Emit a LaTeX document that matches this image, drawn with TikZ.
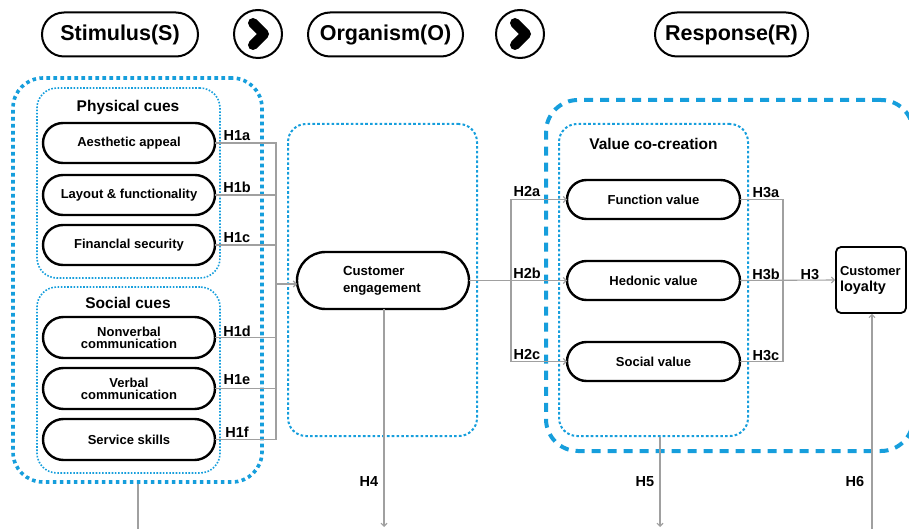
\documentclass[tikz,border=0pt]{standalone}
\usepackage{fontspec}
\setmainfont{Liberation Sans}
\usetikzlibrary{shapes.misc,arrows.meta}
\definecolor{sky}{RGB}{22,158,220}
\definecolor{lnc}{RGB}{160,160,160}
\tikzset{
  pill/.style={rounded rectangle, draw=black, line width=2.4pt, minimum width=172pt, minimum height=40pt, inner sep=0pt, outer sep=0pt, align=center, font=\bfseries\fontsize{13}{12}\selectfont},
  headpill/.style={rounded rectangle, draw=black, line width=2pt, minimum height=44pt, inner sep=0pt, font=\bfseries\fontsize{21.5}{24}\selectfont},
  chev/.style={circle, draw=black, line width=2pt, minimum size=48pt, inner sep=0pt},
  chevmark/.style={line width=10pt, line cap=round, line join=round},
  bigdot/.style={draw=sky, line width=3.6pt, dash pattern=on 3.6pt off 3.4pt, rounded corners=30pt, inner sep=0pt},
  thindot/.style={draw=sky, line width=1.6pt, dash pattern=on 1.6pt off 1.6pt, rounded corners=20pt, inner sep=0pt},
  middot/.style={draw=sky, line width=2pt, dash pattern=on 2.6pt off 2.2pt, rounded corners=18pt, inner sep=0pt},
  bigdash/.style={draw=sky, line width=4pt, dash pattern=on 9pt off 7pt, rounded corners=32pt, inner sep=0pt},
  grp/.style={font=\bfseries\fontsize{15.5}{18}\selectfont},
  hlab/.style={font=\bfseries\fontsize{14.5}{16}\selectfont, anchor=base, inner sep=0pt},
  ln/.style={draw=lnc, line width=1.1pt},
  ar/.style={ln, -{Straight Barb[length=3pt,width=6pt]}},
}
\begin{document}
\begin{tikzpicture}[x=1pt,y=-1pt]
\useasboundingbox (0,0) rectangle (909,529);
% header
\node[headpill, minimum width=156pt] (stim) at (120,34.5) {Stimulus(S)};
\node[chev] (c1) at (258,34) {};
\draw[chevmark] ([shift={(-5,-11)}]c1.center) -- ([shift={(6,0)}]c1.center) -- ([shift={(-5,11)}]c1.center);
\node[headpill, minimum width=155pt] (org) at (385.5,34.5) {Organism(O)};
\node[chev] (c2) at (520,34) {};
\draw[chevmark] ([shift={(-5,-11)}]c2.center) -- ([shift={(6,0)}]c2.center) -- ([shift={(-5,11)}]c2.center);
\node[headpill, minimum width=153pt] (resp) at (731.5,34.5) {Response(R)};
% boxes
\node[bigdot, minimum width=249pt, minimum height=404pt] (sbox) at (137.5,280) {};
\node[thindot, minimum width=183pt, minimum height=190pt] (phys) at (128.5,183) {};
\node[thindot, minimum width=183pt, minimum height=186pt] (soc) at (128.5,380) {};
\node[middot, minimum width=189pt, minimum height=312pt] (obox) at (382.5,280) {};
\node[bigdash, minimum width=367pt, minimum height=351pt] (rbox) at (729.5,275.5) {};
\node[middot, minimum width=189pt, minimum height=312pt] (vbox) at (653.5,280) {};
% group labels
\node[grp] (lphys) at (128,107) {Physical cues};
\node[grp] (lsoc) at (128,303) {Social cues};
\node[grp] (lval) at (653.5,144) {Value co-creation};
% stimulus pills
\node[pill] (aes) at (129,143) {Aesthetic appeal};
\node[pill] (lay) at (129,195) {Layout \& functionality};
\node[pill] (fin) at (129,245) {Financlal security};
\node[pill, minimum height=41pt] (nonv) at (129,337.5) {Nonverbal\\communication};
\node[pill, minimum height=41pt] (verb) at (129,388.5) {Verbal\\communication};
\node[pill, minimum height=41pt] (serv) at (129,439.5) {Service skills};
% organism
\node[pill, minimum height=57pt, minimum width=172pt] (ce) at (383,280.5) {\parbox{80pt}{\raggedright\fontsize{13.2}{17}\selectfont Customer\\engagement}};
% values
\node[pill, minimum width=173pt, minimum height=39pt] (fv) at (653.5,199.5) {Function value};
\node[pill, minimum width=173pt, minimum height=39pt] (hv) at (653.5,280.5) {Hedonic value};
\node[pill, minimum width=173pt, minimum height=39pt] (sv) at (653.5,361.5) {Social value};
% loyalty
\node[draw=black, line width=1.8pt, rounded corners=5pt, minimum width=70pt, minimum height=66pt, inner sep=0pt] (cl) at (871,280) {\parbox{62pt}{\raggedright\bfseries\fontsize{13}{16}\selectfont Customer\\{\fontsize{14.5}{16}\selectfont loyalty}}};
% junctions
\coordinate (j1) at (276,284);
\coordinate (j2) at (511,280.5);
\coordinate (j3) at (783,280.5);
\draw[ln] (aes.east) -| (j1);
\draw[ln] (lay.east) -| (j1);
\draw[ln] (fin.east) -| (j1);
\draw[ln] (nonv.east) -| (j1);
\draw[ln] (verb.east) -| (j1);
\draw[ln] (serv.east) -| (j1);
\draw[ar] (j1) -- (j1 -| ce.west);
\draw[ln] (ce.east) -- (j2);
\draw[ar] (j2) |- (fv.west);
\draw[ar] (j2) -- (hv.west);
\draw[ar] (j2) |- (sv.west);
\draw[ln] (fv.east) -| (j3);
\draw[ln] (sv.east) -| (j3);
\draw[ar] (hv.east) -- (cl.west);
% H labels
\node[hlab] (h1a) at (237,141) {H1a};
\node[hlab] (h1b) at (237,193) {H1b};
\node[hlab] (h1c) at (237,243) {H1c};
\node[hlab] (h1d) at (237,336) {H1d};
\node[hlab] (h1e) at (237,384) {H1e};
\node[hlab] (h1f) at (237,437) {H1f};
\node[hlab] (h2a) at (527,197) {H2a};
\node[hlab] (h2b) at (527,278.5) {H2b};
\node[hlab] (h2c) at (527,359.5) {H2c};
\node[hlab] (h3a) at (766,198) {H3a};
\node[hlab] (h3b) at (766,279) {H3b};
\node[hlab] (h3c) at (766,360) {H3c};
\node[hlab] (h3) at (810,279) {H3};
\node[hlab] (h4) at (369,486) {H4};
\node[hlab] (h5) at (645,486) {H5};
\node[hlab] (h6) at (855,486) {H6};
% bottom lines
\coordinate (b1) at (138,532);
\coordinate (b4) at (384,527);
\coordinate (b5) at (660,527);
\coordinate (b6) at (872,532);
\draw[ln] (sbox.south -| b1) -- (b1);
\draw[ar] (ce.south -| b4) -- (b4);
\draw[ar] (vbox.south -| b5) -- (b5);
\draw[ar] (b6) -- (cl.south -| b6);
\end{tikzpicture}
\end{document}
